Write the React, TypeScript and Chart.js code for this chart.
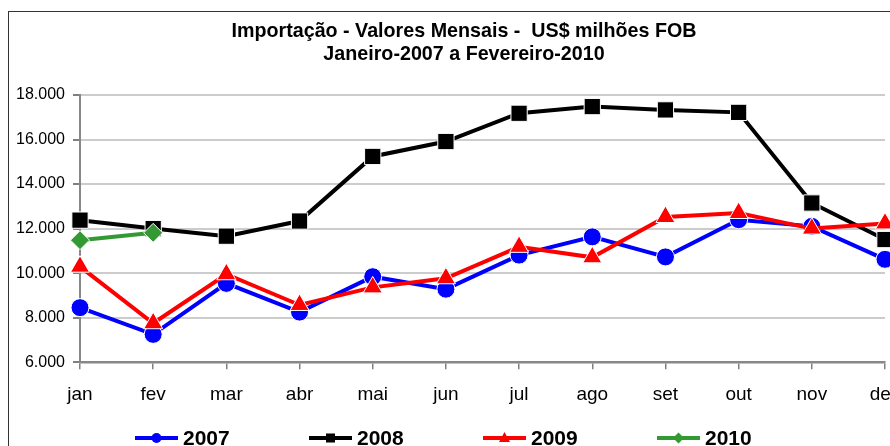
import React, { useEffect, useRef } from "react";
import { Chart, registerables } from "chart.js";

Chart.register(...registerables);

const months = ["jan", "fev", "mar", "abr", "mai", "jun", "jul", "ago", "set", "out", "nov", "dez"];
const v2007 = [8450, 7250, 9540, 8250, 9840, 9280, 10810, 11630, 10730, 12400, 12100, 10620];
const v2008 = [12380, 12000, 11660, 12340, 15240, 15910, 17180, 17480, 17330, 17220, 13150, 11510];
const v2009 = [10290, 7750, 9950, 8570, 9360, 9770, 11180, 10710, 12520, 12700, 12000, 12230];
const v2010 = [11480, 11810];
const seriesNames = ["2007", "2008", "2009", "2010"];
const seriesColors = ["#0000ff", "#000000", "#ff0000", "#339933"];
const seriesStyles = ["circle", "rect", "triangle", "rectRot"];
const titleLines = ["Importação - Valores Mensais -  US$ milhões FOB", "Janeiro-2007 a Fevereiro-2010"];
const yMin = 6000;
const yMax = 18000;
const yStep = 2000;

const FONT = "'Liberation Sans', Arial, sans-serif";

function fmt(v: number): string {
  const th = Math.floor(v / 1000);
  const rest = Math.round(v % 1000);
  return `${th}.${String(rest).padStart(3, "0")}`;
}

const legendPlugin = {
  id: "customLegend",
  afterDraw(chart: any) {
    const ctx = chart.ctx;
    const startX = 126;
    const stepX = 174;
    const y = 426;
    ctx.save();
    chart.data.datasets.forEach((ds: any, i: number) => {
      const x0 = startX + i * stepX;
      const color = ds.borderColor;
      ctx.strokeStyle = color;
      ctx.lineWidth = 4;
      ctx.beginPath();
      ctx.moveTo(x0, y);
      ctx.lineTo(x0 + 43, y);
      ctx.stroke();
      const cx = x0 + 21.5;
      ctx.fillStyle = color;
      ctx.beginPath();
      const st = seriesStyles[i];
      if (st === "circle") {
        ctx.arc(cx, y, 5, 0, Math.PI * 2);
      } else if (st === "rect") {
        ctx.rect(cx - 4.5, y - 4.5, 9, 9);
      } else if (st === "triangle") {
        ctx.moveTo(cx, y - 6);
        ctx.lineTo(cx + 5.5, y + 4);
        ctx.lineTo(cx - 5.5, y + 4);
        ctx.closePath();
      } else {
        ctx.moveTo(cx, y - 5.5);
        ctx.lineTo(cx + 5.5, y);
        ctx.lineTo(cx, y + 5.5);
        ctx.lineTo(cx - 5.5, y);
        ctx.closePath();
      }
      ctx.fill();
      ctx.fillStyle = "#000";
      ctx.font = `bold 21px ${FONT}`;
      ctx.textBaseline = "middle";
      ctx.textAlign = "left";
      ctx.fillText(ds.label, x0 + 48, y + 1);
    });
    ctx.restore();
  },
};

export default function App() {
  const ref = useRef<HTMLCanvasElement | null>(null);

  useEffect(() => {
    if (!ref.current) return;
    const mk = (i: number, data: number[], order: number, radius: number) => ({
      label: seriesNames[i],
      data,
      borderColor: seriesColors[i],
      backgroundColor: seriesColors[i],
      borderWidth: 4,
      pointStyle: seriesStyles[i],
      pointRadius: radius,
      pointBackgroundColor: seriesColors[i],
      pointBorderColor: "#ffffff",
      pointBorderWidth: 1,
      tension: 0,
      order,
      yAxisID: "y",
    });
    const chart = new Chart(ref.current, {
      type: "line",
      data: {
        labels: months,
        datasets: [
          mk(0, v2007, 4, 9),
          mk(1, v2008, 3, 11.5),
          mk(2, v2009, 2, 11),
          mk(3, v2010, 1, 9.5),
        ],
      },
      options: {
        responsive: false,
        animation: false,
        devicePixelRatio: 1,
        layout: { padding: { left: 0, right: 0, top: 0, bottom: 52 } },
        plugins: {
          legend: { display: false },
          tooltip: { enabled: false },
          title: {
            display: true,
            text: titleLines,
            color: "#000",
            font: { family: FONT, size: 19.7, weight: "bold", lineHeight: 23 / 19.7 },
            padding: { top: 8.5, bottom: 28.5 },
          },
        },
        scales: {
          x: {
            offset: false,
            grid: {
              display: true,
              drawOnChartArea: false,
              drawTicks: true,
              tickLength: 7,
              tickColor: "#808080",
              lineWidth: 1.5,
            },
            border: { display: true, color: "#888888", width: 2.5 },
            ticks: {
              color: "#000",
              font: { family: FONT, size: 19 },
              padding: 14,
              maxRotation: 0,
              autoSkip: false,
            },
          },
          y: {
            min: yMin,
            max: yMax,
            afterFit: (s: any) => {
              s.width = 71;
            },
            grid: {
              color: "#cccccc",
              lineWidth: 2,
              drawTicks: true,
              tickLength: 7,
              tickColor: "#808080",
            },
            border: { display: true, color: "#888888", width: 2 },
            ticks: {
              stepSize: yStep,
              color: "#000",
              font: { family: FONT, size: 16 },
              padding: 8,
              callback: (v: any) => fmt(Number(v)),
            },
          },
          yr: {
            position: "right",
            display: true,
            afterFit: (s: any) => {
              s.width = 34;
            },
            grid: { display: false, drawTicks: false },
            border: { display: false },
            ticks: { display: false },
          },
        },
      },
      plugins: [legendPlugin],
    } as any);
    return () => chart.destroy();
  }, []);

  return (
    <div style={{ position: "fixed", left: 0, top: 0, width: 890, height: 446, overflow: "hidden", background: "#fff" }}>
      <div style={{ position: "absolute", left: 8, top: 11, border: "1px solid #333", width: 910, height: 460 }}>
        <canvas ref={ref} width={910} height={460} style={{ display: "block", width: 910, height: 460 }} />
      </div>
    </div>
  );
}
